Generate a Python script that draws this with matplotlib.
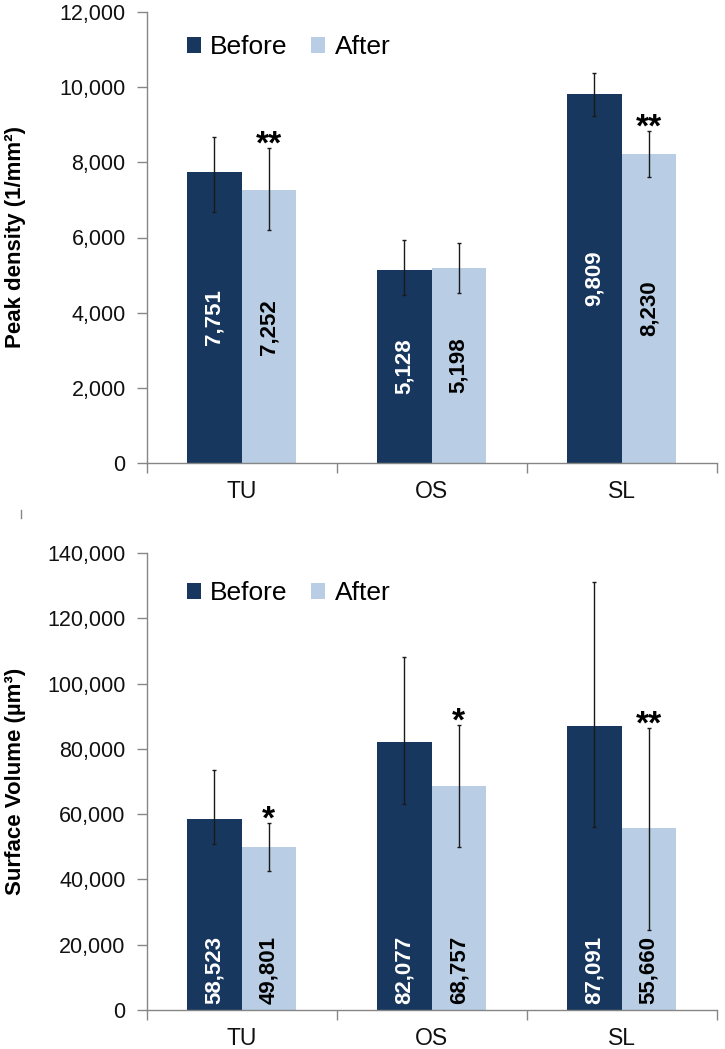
import matplotlib
matplotlib.use("Agg")
import matplotlib.pyplot as plt
from matplotlib.lines import Line2D
import numpy as np

plt.rcParams['font.family'] = ['Liberation Sans', 'DejaVu Sans']

categories = ["TU", "OS", "SL"]
series_names = ["Before", "After"]

# Panel 1: Peak density
peak_before = [7751, 5128, 9809]
peak_after = [7252, 5198, 8230]
peak_before_lo = [6680, 4480, 9230]
peak_before_hi = [8675, 5930, 10380]
peak_after_lo = [6200, 4530, 7620]
peak_after_hi = [8380, 5860, 8840]
peak_stars = ["**", "", "**"]
peak_ticks = [0, 2000, 4000, 6000, 8000, 10000, 12000]

# Panel 2: Surface volume
vol_before = [58523, 82077, 87091]
vol_after = [49801, 68757, 55660]
vol_before_lo = [51000, 63000, 56000]
vol_before_hi = [73500, 108200, 131200]
vol_after_lo = [42500, 50000, 24500]
vol_after_hi = [57200, 87300, 86500]
vol_stars = ["*", "*", "**"]
vol_ticks = [0, 20000, 40000, 60000, 80000, 100000, 120000, 140000]

C_BEFORE = "#17375E"
C_AFTER = "#B9CDE5"
AXC = "#868686"

fig = plt.figure(figsize=(7.25, 10.49), dpi=100)
left, width = 146.5 / 725, 570 / 725
ax1 = fig.add_axes([left, 1 - 463 / 1049, width, 451 / 1049])
ax2 = fig.add_axes([left, 1 - 1010 / 1049, width, 457 / 1049])


def draw(ax, before, after, blo, bhi, alo, ahi, stars, ticks, ylabel, label_mode, legy):
    x = np.arange(len(categories))
    w = 0.287
    before = np.array(before); after = np.array(after)
    ax.bar(x - w / 2, before, w, color=C_BEFORE, label=series_names[0], zorder=2)
    ax.bar(x + w / 2, after, w, color=C_AFTER, label=series_names[1], zorder=2)
    berr = [before - np.array(blo), np.array(bhi) - before]
    aerr = [after - np.array(alo), np.array(ahi) - after]
    ax.errorbar(x - w / 2, before, yerr=berr, fmt='none', ecolor='#1a1a1a',
                elinewidth=1.0, capsize=1.5, capthick=1.0, zorder=3)
    ax.errorbar(x + w / 2, after, yerr=aerr, fmt='none', ecolor='#1a1a1a',
                elinewidth=1.0, capsize=1.5, capthick=1.0, zorder=3)
    for xs, vals, col in ((x - w / 2, before, 'white'), (x + w / 2, after, 'black')):
        for xi, v in zip(xs, vals):
            if label_mode == 'center':
                ax.text(xi, v / 2, f"{v:,}", rotation=90, ha='center', va='center',
                        color=col, fontsize=16, fontweight='bold', zorder=4)
            else:
                ax.annotate(f"{v:,}", (xi, 0), xytext=(0, 4), textcoords='offset points',
                            rotation=90, ha='center', va='bottom', color=col,
                            fontsize=16, fontweight='bold', zorder=4)
    for xi, top, s in zip(x + w / 2, ahi, stars):
        if s:
            ax.annotate(s, (xi, top), xytext=(0, -4), textcoords='offset points',
                        ha='center', va='baseline', fontsize=24, fontweight='bold',
                        color='black', zorder=4)
    ax.set_xlim(-0.5, len(categories) - 0.5)
    ax.set_ylim(ticks[0], ticks[-1])
    ax.set_yticks(ticks)
    ax.set_yticklabels([f"{t:,}" for t in ticks])
    ax.set_xticks(np.arange(-0.5, len(categories)), labels=[''] * (len(categories) + 1))
    ax.set_xticks(x, labels=categories, minor=True)
    ax.tick_params(axis='x', which='major', length=7, width=1, color=AXC, direction='out')
    ax.tick_params(axis='x', which='minor', length=0, pad=12, labelsize=16.5, labelcolor='#111111')
    ax.tick_params(axis='y', length=7, width=1, color=AXC, direction='out', pad=8,
                   labelsize=15.5, labelcolor='#111111')
    for sp in ['top', 'right']:
        ax.spines[sp].set_visible(False)
    for sp in ['left', 'bottom']:
        ax.spines[sp].set_color(AXC)
        ax.spines[sp].set_linewidth(1)
    ax.set_ylabel(ylabel, fontsize=16, fontweight='bold', color='black')
    ax.yaxis.set_label_coords(-0.212, 0.5)
    ax.legend(loc='center left', bbox_to_anchor=(0.071, legy), ncol=2, frameon=False,
              fontsize=19, handlelength=0.53, handleheight=0.53, handletextpad=0.35,
              columnspacing=0.9, borderpad=0, borderaxespad=0)


draw(ax1, peak_before, peak_after, peak_before_lo, peak_before_hi, peak_after_lo,
     peak_after_hi, peak_stars, peak_ticks, "Peak density (1/mm\u00b2)", 'center', 0.922)
draw(ax2, vol_before, vol_after, vol_before_lo, vol_before_hi, vol_after_lo,
     vol_after_hi, vol_stars, vol_ticks, "Surface Volume (\u00b5m\u00b3)", 'base', 0.912)

fig.add_artist(Line2D([21 / 725, 21 / 725], [1 - 510 / 1049, 1 - 518 / 1049],
                      color=AXC, linewidth=1))

fig.savefig("out.png", dpi=100)
